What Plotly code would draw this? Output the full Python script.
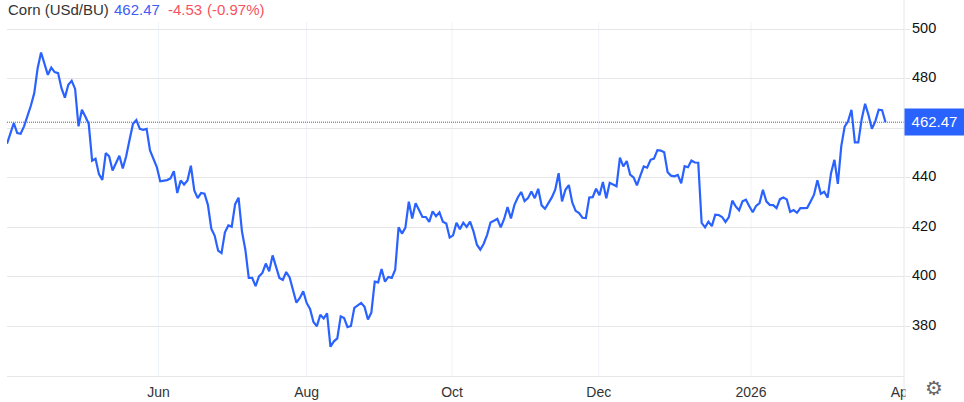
import plotly.graph_objects as go

# Daily corn prices (trading days, Apr 2025 - Mar 2026)
prices = [
 453.8,458.1,462.1,458.1,457.8,460.8,464.8,469.1,474.2,484.3,490.6,485.6,481.6,484.5,482.7,482.3,476.2,472.4,477.6,479.2,
 475.9,460.8,467.5,464.8,461.8,446.9,447.7,441.5,439.2,450.0,448.7,443.0,446.0,448.9,443.8,448.7,455.4,461.8,463.3,459.8,
 459.4,459.8,451.1,447.3,444.4,
 438.6,438.7,439.1,439.8,442.7,433.9,438.9,437.3,438.9,444.9,434.9,431.8,433.9,433.6,429.1,419.5,416.6,410.6,409.6,418.0,
 420.8,420.3,429.4,432.0,418.4,411.0,399.6,399.6,396.3,400.2,401.6,405.4,402.3,408.7,404.0,399.6,398.8,402.0,399.8,394.2,
 389.6,391.5,394.2,389.5,387.1,381.8,380.1,384.7,383.2,385.3,371.8,374.0,375.2,384.1,383.4,379.7,380.2,387.5,388.4,389.5,
 387.9,382.8,385.6,398.1,397.8,403.2,398.1,400.0,399.6,402.9,420.0,417.5,419.9,430.4,
 423.6,429.8,427.0,424.2,424.2,422.2,426.5,424.5,426.1,422.3,421.6,415.9,416.8,421.9,419.3,421.9,420.2,422.3,418.4,413.0,
 411.0,413.4,417.0,422.0,422.7,423.5,420.0,423.4,428.2,423.6,429.0,432.1,434.3,430.6,431.8,434.5,431.8,435.6,428.9,427.5,
 429.8,432.1,435.2,441.9,430.5,435.2,437.1,430.1,426.7,425.8,423.9,423.8,432.1,432.2,435.6,433.0,438.3,431.8,438.0,437.4,
 436.6,448.2,444.6,446.8,441.3,440.2,437.0,440.9,444.6,444.1,447.3,447.8,451.2,
 451.0,450.3,442.3,440.9,440.6,441.2,437.8,444.7,444.3,447.0,446.2,446.1,421.8,420.0,422.3,420.5,425.1,425.0,424.2,422.2,
 424.2,430.8,428.5,426.9,430.5,431.2,428.5,426.1,428.7,429.8,435.2,430.5,429.1,429.0,427.8,431.4,432.1,431.3,426.3,427.0,
 425.9,427.8,427.8,427.9,430.5,433.2,439.0,433.6,434.4,432.0,441.9,447.3,437.6,452.7,460.7,462.8,467.5,454.3,454.3,463.7,
 469.9,465.4,459.8,462.8,467.5,467.3,462.47,
]
days = list(range(len(prices)))
month_ticks = [44.5, 88.0, 130.7, 173.8, 218.5, 262.7]
month_labels = ["Jun", "Aug", "Oct", "Dec", "2026", "Apr"]
y_ticks = [380, 400, 420, 440, 460, 480, 500]
y_labels = ["380", "400", "420", "440", "", "480", "500"]
last_price = 462.47

BLUE = "#2962ff"
FONT = "Liberation Sans, Arial, sans-serif"

W, H = 964, 402
L, R, T, B = 7, 904.5, 0, 376.5
PX_PER_DAY = 3.407
PX_PER_UNIT = 2.48
x_range = [0, (R - L) / PX_PER_DAY]
y_top = 500 + 29.3 / PX_PER_UNIT
y_bottom = 500 - (B - 29.3) / PX_PER_UNIT

fig = go.Figure()
fig.add_trace(go.Scatter(
    x=days, y=prices, mode="lines", cliponaxis=True,
    line=dict(color=BLUE, width=2.2), hoverinfo="skip", showlegend=False,
))

shapes = []
for t in month_ticks[:5]:
    shapes.append(dict(type="line", xref="x", yref="paper", x0=t, x1=t, y0=0, y1=1 - 22 / B,
                       line=dict(color="#eef3f9", width=1), layer="below"))
shapes.append(dict(type="line", xref="paper", yref="y", x0=0, x1=1, y0=last_price, y1=last_price,
                   line=dict(color="#3a5fd9", width=1, dash="1px,1px"), layer="above"))
shapes.append(dict(type="line", xref="paper", yref="paper", x0=1, x1=1, y0=-(H - B - 2) / B, y1=1,
                   line=dict(color="#e6e6e6", width=1), layer="above"))

def txt(x_px, y_px, s, color, size=15, anchor="left", font=FONT):
    return dict(xref="paper", yref="paper", x=(x_px - L) / (R - L), y=1 - (y_px - T) / (B - T),
                xanchor=anchor, yanchor="middle", text=s, showarrow=False,
                font=dict(family=font, size=size, color=color), borderpad=0, borderwidth=0)

annotations = [
    txt(8.5, 9.5, "Corn (USd/BU)", "#333333"),
    txt(114, 9.5, "462.47", "#3f5cf5"),
    txt(168, 9.5, "-4.53", "#f7525f"),
    txt(207, 9.5, "(-0.97%)", "#f7525f"),
    # white cover that cuts the last month label at the axis edge
    dict(xref="paper", yref="paper", x=(905.5 - L) / (R - L), y=1 - (378 - T) / (B - T),
         xanchor="left", yanchor="top", text=" ", showarrow=False, width=58, height=23,
         bgcolor="#ffffff", borderpad=0, font=dict(size=14)),
    txt(935, 389, "\u2699", "#666666", size=20, anchor="center", font="DejaVu Sans"),
    # last price tag
    dict(xref="paper", yref="y", x=(905 - L) / (R - L), y=last_price, xanchor="left", yanchor="middle",
         text="462.47", showarrow=False, width=59, height=25.5, bgcolor=BLUE, align="center",
         borderpad=0, font=dict(family=FONT, size=15, color="#ffffff")),
]
# price-axis labels, set as text just above their gridlines
for value, label in zip(y_ticks, y_labels):
    if label:
        annotations.append(dict(xref="paper", yref="y", x=(911.5 - L) / (R - L), y=value, yshift=1.5,
                                xanchor="left", yanchor="middle", text=label, showarrow=False, borderpad=0,
                                font=dict(family=FONT, size=14.5, color="#111111")))

fig.update_layout(
    width=W, height=H, autosize=False,
    margin=dict(l=L, r=W - R, t=T, b=H - B, pad=0),
    paper_bgcolor="#ffffff", plot_bgcolor="#ffffff",
    font=dict(family=FONT, size=14, color="#333333"),
    shapes=shapes, annotations=annotations, showlegend=False,
    xaxis=dict(range=x_range, tickmode="array", tickvals=month_ticks, ticktext=month_labels,
               showgrid=False, zeroline=False, showline=True, linecolor="#e6e6e6", linewidth=1,
               ticks="", tickfont=dict(family=FONT, size=14, color="#333333"), ticklabelstandoff=3),
    yaxis=dict(range=[y_bottom, y_top], side="right", tickmode="array", tickvals=y_ticks, ticktext=y_labels,
               showticklabels=False,
               showgrid=True, gridcolor="#e6e6e6", gridwidth=1, zeroline=False, showline=False,
               ticks="outside", ticklen=5, tickcolor="#e6e6e6", tickwidth=1),
)

fig.write_html("out.html", config=dict(displayModeBar=False),
               post_script="document.body.style.margin='0';document.body.style.overflow='hidden';")
